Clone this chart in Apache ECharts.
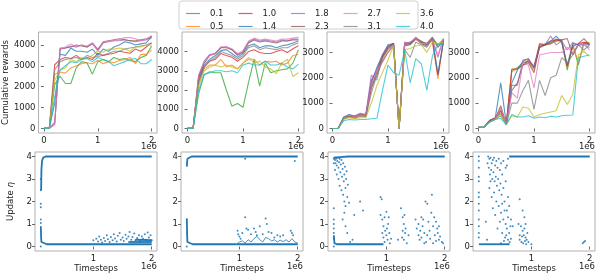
<!DOCTYPE html>
<html><head><meta charset="utf-8">
<script src="https://cdn.jsdelivr.net/npm/echarts@6/dist/echarts.min.js"></script>
<style>html,body{margin:0;padding:0;background:#fff}#c{width:598px;height:274px}</style>
</head><body><div id="c"></div>
<script>
// ---- data (timesteps in units of 1e6) ----
const steps = [0,0.1,0.2,0.3,0.4,0.5,0.6,0.7,0.8,0.9,1.0,1.1,1.2,1.3,1.4,1.5,1.6,1.7,1.8,1.9,2.0];
const etaLabels = ['0.1','0.5','1.0','1.4','1.8','2.3','2.7','3.1','3.6','4.0'];
const legendRow1 = ['0.1','1.0','1.8','2.7','3.6'];
const legendRow2 = ['0.5','1.4','2.3','3.1','4.0'];
const topYTicks12 = [0,1000,2000,3000,4000];
const topYTicks34 = [0,1000,2000,3000];
const topXTicks = [0,1,2];
const botXTicks = [1,2];
const botYTicks = [0,1,2,3,4];

const rewardsEnv1 = [
 [0,0,2100,2500,2150,2150,2900,3200,3150,2600,3200,3300,3200,3400,3300,3350,3250,3200,3400,3500,3950],
 [0,0,2600,2700,2650,2900,3000,3100,3150,3100,3250,3100,3200,3150,3250,3300,3400,3100,3550,3550,3750],
 [0,0,3050,3300,3400,3350,3500,3300,3400,3300,3600,3500,3550,3600,3700,3650,3600,3800,3700,3900,4100],
 [0,0,1200,3550,3500,3850,3700,3700,3650,3800,3500,3800,3700,3900,4000,4150,4100,4000,4050,4100,4400],
 [0,0,300,3800,3850,3950,3900,4000,3900,4100,3800,4100,4150,4200,4200,4250,4200,4150,4200,4250,4350],
 [0,0,200,3850,3850,3900,4000,3950,3900,4050,3750,4150,4200,4250,4300,4250,4200,4200,4250,4300,4400],
 [0,0,200,3800,3900,4050,3900,4000,3950,4100,3700,4100,4200,4200,4250,4350,4350,4300,4200,4250,4450],
 [0,0,2800,3200,3300,3350,3400,3300,3500,3400,3450,3500,3600,3700,3700,3800,3850,3900,3950,4000,4100],
 [0,0,2300,2800,2900,3300,3200,3400,3350,3500,3700,3650,3800,3800,3850,3800,3700,3900,3900,4000,4000],
 [0,0,1500,2800,3000,3200,3150,3300,3350,3200,3400,3300,3200,3000,3100,3200,3300,3350,3100,3100,3300]
];
const rewardsEnv2 = [
 [0,0,1800,2800,2950,2900,2900,2000,1150,1300,1100,2400,3600,2200,3400,2900,3000,3050,3100,3400,4100],
 [0,0,2300,3100,3300,3300,3600,3200,3300,3100,3400,3600,3600,3300,3500,3450,3500,3300,3400,3800,3850],
 [0,0,2500,3200,3500,3600,3900,3800,3700,3500,3700,4000,4100,3950,3900,3900,4000,4100,3950,4150,4300],
 [0,0,2600,3300,3600,3800,4050,4100,3900,3700,3900,4300,4400,4200,4300,4300,4200,4300,4350,4450,4550],
 [0,0,2700,3500,3850,3900,4200,4250,4100,3800,4000,4500,4650,4550,4600,4550,4500,4600,4550,4650,4650],
 [0,0,2700,3400,3800,3900,4200,4200,4100,3850,3950,4450,4600,4500,4550,4500,4450,4550,4550,4600,4600],
 [0,0,2800,3500,3800,3900,4250,4250,4150,3900,4050,4550,4700,4600,4650,4600,4550,4650,4650,4700,4750],
 [0,0,2400,3200,3500,3700,4000,3900,3800,3600,3800,4200,4300,4100,4200,4150,4100,4200,4200,4350,4450],
 [0,0,2200,3000,3200,3300,3200,3300,3200,3100,3400,3700,3400,3500,3200,3100,2850,3400,3600,2700,2900],
 [0,0,2000,2800,2900,3000,3000,2950,3000,2900,3300,3400,3300,3300,3500,3300,3300,3400,3200,3100,3350]
];
const rewardsEnv3 = [
 [0,0,420,480,470,520,540,1600,2100,2800,3200,3350,0,3350,3400,3550,3450,3300,3550,3300,3500],
 [0,0,400,500,420,500,480,1700,2200,2700,3100,3300,0,3300,3300,3500,3350,3300,3450,1950,3450],
 [0,0,430,520,460,560,520,1900,2300,2850,3250,3350,0,3350,3350,3550,3400,3350,3500,2100,3500],
 [0,0,450,550,480,550,500,1800,2400,2900,3300,3350,0,3250,3300,3550,3350,3250,3550,2150,3400],
 [0,0,400,530,500,600,560,2100,1900,2900,3200,3300,0,3400,3350,3600,3400,3300,3500,2800,3550],
 [0,0,380,500,450,560,500,1600,2250,2800,3150,3350,0,3300,3350,3550,3400,3350,3600,3200,3500],
 [0,0,410,520,470,540,520,1700,2300,2600,3000,3300,0,3350,3400,3550,3350,3350,3500,2900,3550],
 [0,0,380,450,400,480,450,1400,2100,2650,3000,3250,0,3100,2800,3400,3300,3200,3550,3200,3450],
 [0,0,350,420,380,420,420,1000,1700,2200,2700,3250,0,3100,3150,3250,3300,3000,3400,3350,3400],
 [0,0,300,350,330,350,350,380,400,1500,2500,2200,2100,3100,1800,2750,2550,1500,2850,3300,3300]
];
const rewardsEnv4 = [
 [50,50,300,400,700,150,2300,2400,2600,2650,2400,3200,3300,3400,3500,3450,2300,3300,2500,3400,3350],
 [50,50,300,400,800,150,2250,2350,2500,2650,2300,3300,3300,3350,3550,3400,2400,3300,2600,3350,3400],
 [50,50,320,420,700,150,2350,2350,2500,2700,2450,3350,3300,3450,3500,3500,2450,3250,3350,3400,3350],
 [50,50,300,400,1800,200,1800,2300,2650,2750,2400,3200,3350,3450,3650,3400,2500,3350,3300,3350,3300],
 [50,50,280,400,600,150,1700,1700,2700,2750,2400,3200,3300,3650,3300,3450,3100,3400,3300,3300,3200],
 [50,50,280,380,900,150,1500,1800,2500,2600,2200,3250,3300,3350,3450,3500,3550,2900,3350,3550,3300],
 [50,50,250,380,800,150,1400,1200,2600,2500,1600,2900,2950,3000,3000,3000,3200,3000,3300,3350,3100],
 [50,50,250,350,500,150,1000,1000,1500,1900,750,1900,1300,2000,2100,2800,2600,2900,3300,3100,3300],
 [50,50,250,350,550,150,500,450,850,800,450,550,600,650,700,1300,950,1350,2900,3050,2850],
 [50,50,250,350,400,150,550,450,450,500,400,450,420,480,450,500,520,530,2800,2850,2900]
];

// eta traces: dense bands (read as polylines) and scattered points, [timestep(1e6), eta]
const etaBands1 = [
 [[0.105,2.5],[0.11,3.4],[0.12,3.8],[0.14,3.95],[0.18,4.0],[2.0,4.0]],
 [[0.1,0.9],[0.105,0.4],[0.11,0.2],[0.13,0.12],[0.2,0.1],[2.0,0.1]],
 [[1.6,0.2],[2.0,0.2]],
 [[1.72,0.3],[2.0,0.28]]
];
const etaPoints1 = [[0.1,1.9],[0.1,1.75],[0.1,1.2],[0.1,1.05],[0.1,0.0],[0.1,2.5],[0.1,3.0],
 [1.0,0.28],[1.05,0.35],[1.08,0.22],[1.1,0.45],[1.13,0.3],[1.15,0.18],[1.18,0.38],[1.2,0.25],[1.23,0.5],[1.25,0.32],
 [1.28,0.2],[1.3,0.42],[1.33,0.28],[1.35,0.55],[1.37,0.36],[1.4,0.22],[1.42,0.48],[1.45,0.6],[1.47,0.3],[1.5,0.4],
 [1.52,0.25],[1.55,0.52],[1.57,0.35],[1.6,0.45],[1.62,0.65],[1.65,0.3],[1.67,0.42],[1.7,0.58],[1.72,0.28],[1.75,0.38],
 [1.78,0.5],[1.8,0.25],[1.83,0.45],[1.85,0.35],[1.88,0.55],[1.9,0.3],[1.93,0.62],[1.95,0.4],[1.98,0.5],[2.0,0.28]];
const etaBands2 = [
 [[0.1,3.55],[0.105,3.75],[0.11,3.9],[0.13,3.98],[0.18,4.0],[2.0,4.0]],
 [[0.1,1.25],[0.102,0.9],[0.105,0.5],[0.11,0.2],[0.13,0.12],[0.2,0.1],[0.95,0.1]],
 [[0.95,0.1],[1.0,0.2],[1.05,0.25],[1.1,0.15],[1.15,0.3],[1.2,0.2],[1.25,0.35],[1.3,0.45],[1.35,0.3],[1.4,0.2],[1.45,0.4],
  [1.5,0.35],[1.55,0.25],[1.6,0.3],[1.65,0.2],[1.7,0.28],[1.75,0.22],[1.8,0.3],[1.85,0.2],[1.9,0.35],[1.95,0.2],[2.0,0.15]],
 [[0.95,0.1],[2.0,0.1]]
];
const etaPoints2 = [[0.1,0.0],[0.97,0.7],[0.98,0.55],[1.0,0.45],[1.05,0.6],[1.1,1.3],[1.12,0.8],[1.15,0.75],[1.2,0.55],
 [1.25,0.8],[1.28,0.65],[1.3,0.5],[1.35,0.9],[1.45,1.25],[1.47,1.0],[1.5,0.65],[1.55,0.6],[1.6,0.4],[1.65,0.5],
 [1.7,0.45],[1.88,0.7],[1.9,0.6],[1.92,0.5],[1.1,3.9],[1.95,3.8],[1.4,0.55],[1.75,0.5],[1.02,0.35]];
const etaBands3 = [
 [[0.1,3.95],[0.2,3.97],[0.35,4.0],[2.0,4.0]],
 [[0.1,0.5],[0.11,0.15],[0.15,0.1],[0.95,0.1]]
];
const etaPoints3 = [[0.11,3.95],[0.12,3.85],[0.13,3.7],[0.14,3.9],[0.15,3.6],[0.16,3.8],[0.17,3.95],[0.18,3.5],[0.19,3.75],
 [0.2,3.9],[0.21,3.3],[0.22,3.65],[0.23,3.85],[0.24,3.1],[0.25,3.45],[0.26,3.7],[0.27,2.9],[0.28,3.2],[0.29,3.55],[0.3,2.6],
 [0.31,3.0],[0.32,3.35],[0.33,2.2],[0.34,2.75],[0.12,3.4],[0.15,3.2],[0.18,3.0],[0.2,2.7],[0.23,2.5],[0.26,2.3],[0.28,2.0],
 [0.3,1.8],[0.36,1.95],[0.45,1.4],[0.55,2.0],[0.6,1.6],[0.25,1.2],[0.3,0.9],[0.33,0.6],[0.28,1.5],[0.38,0.2],[0.42,0.3],
 [0.1,1.7],[0.1,1.2],[0.1,1.0],[0.1,0.8],[0.1,0.6],[0.1,0.35],[0.1,0.0],[0.1,3.9],[0.1,3.7],
 [0.9,2.2],[0.92,2.1],[0.9,1.4],[0.93,1.2],[0.95,0.9],[0.97,1.3],[0.98,0.7],[1.0,1.55],[1.0,0.5],[1.02,0.3],[1.03,1.0],
 [1.05,0.6],[0.95,0.4],[0.97,0.2],[1.06,0.15],[1.08,0.35],[0.93,0.6],[1.01,0.8],[1.04,1.3],
 [1.25,1.7],[1.28,1.3],[1.3,1.0],[1.32,0.6],[1.27,0.4],[1.3,0.3],[1.33,0.8],[1.35,0.15],[1.28,0.7],[1.31,1.4],[1.2,0.3],[1.38,0.5],
 [1.5,1.2],[1.52,0.8],[1.55,0.5],[1.57,0.3],[1.6,1.3],[1.62,0.9],[1.65,0.6],[1.67,2.0],[1.68,0.2],[1.7,1.9],[1.72,1.1],
 [1.74,0.7],[1.75,0.35],[1.77,1.5],[1.78,2.3],[1.8,0.9],[1.82,1.3],[1.83,0.5],[1.85,0.25],[1.87,0.8],[1.88,0.6],[1.9,0.3],
 [1.92,0.45],[1.95,0.2],[1.97,0.15],[1.55,1.0],[1.6,0.4],[1.65,0.15],[1.7,0.5],[1.8,0.15],[1.85,1.1],[1.9,0.9],[1.58,0.7],[1.63,1.2]];
const etaBands4 = [
 [[0.62,4.0],[2.0,4.0]],
 [[0.1,0.1],[0.62,0.1]]
];
const etaPoints4 = [[0.1,4.0],[0.1,3.8],[0.1,3.5],[0.1,2.4],[0.1,2.2],[0.1,1.9],[0.1,1.6],[0.1,1.2],[0.1,0.9],[0.1,0.6],[0.1,0.4],[0.1,3.1],[0.1,2.9],
 [0.26,4.0],[0.28,3.9],[0.3,3.95],[0.32,3.7],[0.34,3.85],[0.36,3.95],[0.38,3.6],[0.4,3.8],[0.42,3.5],[0.44,3.9],[0.46,3.4],[0.48,3.7],
 [0.27,3.5],[0.29,3.2],[0.31,3.4],[0.33,3.0],[0.35,3.3],[0.37,2.9],[0.39,3.1],[0.41,2.7],[0.43,3.0],[0.45,2.5],[0.47,2.8],[0.49,2.3],
 [0.5,3.2],[0.52,2.6],[0.54,2.0],[0.56,2.9],[0.58,1.6],[0.6,2.2],[0.28,2.6],[0.32,2.2],[0.36,2.4],[0.4,2.0],[0.44,1.8],[0.48,1.5],
 [0.5,1.9],[0.52,1.2],[0.54,1.6],[0.56,1.0],[0.58,0.8],[0.6,1.3],[0.62,0.6],[0.64,0.9],[0.46,1.1],[0.42,0.8],[0.5,0.6],[0.55,0.4],
 [0.6,0.3],[0.63,0.2],[0.53,0.25],[0.48,0.15],[0.57,0.5],[0.61,0.1],[0.65,0.35],[0.38,1.4],[0.34,1.7],[0.3,2.9],[0.25,3.7],[0.22,1.1],
 [0.24,0.3],[0.62,1.8],[0.65,1.2],[0.68,0.9],[0.56,3.5],[0.52,3.8],[0.6,3.9],[0.58,3.6],
 [0.8,2.1],[0.85,1.6],[0.88,1.3],[0.9,1.0],[0.82,0.9],[0.85,0.7],[0.87,0.5],[0.9,0.4],[0.92,0.3],[0.8,0.5],[0.83,0.2],[0.86,0.15],
 [0.88,0.8],[0.93,0.6],[0.95,0.2],[0.78,1.0],[0.8,0.3],[0.91,0.1],[0.84,0.45],[0.89,0.25],[1.0,0.1],[1.9,0.2],[1.92,0.25],[1.88,0.15]];

// ---- styling / layout ----
const FONT = 'DejaVu Sans';
const colors = ['#2ca02c','#ff7f0e','#d62728','#1f77b4','#9467bd','#8c564b','#e377c2','#7f7f7f','#bcbd22','#17becf'];
const rewardSets = [rewardsEnv1, rewardsEnv2, rewardsEnv3, rewardsEnv4];
const topYRange = [[-220,4620],[-240,5020],[-180,3800],[-180,3810]];
const topYTicks = [topYTicks12, topYTicks12, topYTicks34, topYTicks34];
const etaBandSets = [etaBands1, etaBands2, etaBands3, etaBands4];
const etaPointSets = [etaPoints1, etaPoints2, etaPoints3, etaPoints4];
const topLeft = [35,182,327,473], botLeft = [35,181,328,473];
const W = 122, topTop = 32, topH = 101, botTop = 152, botH = 99;

const grids = [], xAxes = [], yAxes = [], series = [], graphics = [];
function axisBase(ticks){
  return {
    axisLine:{show:false},
    axisTick:{show:true,length:3,lineStyle:{color:'#444',width:0.8},customValues:ticks},
    axisLabel:{color:'#222',fontSize:8.5,fontFamily:FONT,margin:3,customValues:ticks,formatter:v=>String(v)},
    splitLine:{show:false}
  };
}
for (let i=0;i<4;i++){
  grids.push({left:topLeft[i],top:topTop,width:W,height:topH,show:true,borderColor:'#b0b0b0',borderWidth:1,backgroundColor:'transparent'});
  xAxes.push(Object.assign(axisBase(topXTicks),{type:'value',gridIndex:i,min:-0.1,max:2.1}));
  const ya = Object.assign(axisBase(topYTicks[i]),{type:'value',gridIndex:i,min:topYRange[i][0],max:topYRange[i][1]});
  if(i===0){ ya.name='Cumulative rewards'; ya.nameLocation='middle'; ya.nameGap=25; ya.nameTextStyle={fontSize:8.5,fontFamily:FONT,color:'#222'}; }
  yAxes.push(ya);
  rewardSets[i].forEach((vals,k)=>{
    series.push({type:'line',name:etaLabels[k],xAxisIndex:i,yAxisIndex:i,symbol:'none',
      data:steps.map((s,j)=>[s,vals[j]]),lineStyle:{width:1.1,color:colors[k],opacity:0.75},itemStyle:{color:colors[k]},
      silent:true,animation:false});
  });
  graphics.push({type:'text',right:598-(topLeft[i]+W),top:142,style:{text:'1e6',font:'8.5px "DejaVu Sans"',fill:'#222'}});
}
for (let i=0;i<4;i++){
  const g = 4+i;
  grids.push({left:botLeft[i],top:botTop,width:W,height:botH,show:true,borderColor:'#b0b0b0',borderWidth:1,backgroundColor:'transparent'});
  xAxes.push(Object.assign(axisBase(botXTicks),{type:'value',gridIndex:g,min:0,max:2.09,name:'Timesteps',nameLocation:'middle',nameGap:13,
     nameTextStyle:{fontSize:8.5,fontFamily:FONT,color:'#222'}}));
  const ya = Object.assign(axisBase(botYTicks),{type:'value',gridIndex:g,min:-0.2,max:4.2});
  if(i===0){ ya.name='Update {i|η}'; ya.nameLocation='middle'; ya.nameGap=20;
    ya.nameTextStyle={fontSize:8.5,fontFamily:FONT,color:'#222',rich:{i:{fontSize:8.5,fontFamily:FONT,fontStyle:'italic',color:'#222'}}}; }
  yAxes.push(ya);
  etaBandSets[i].forEach((b,bi)=>{
    const thin = (i===1 && bi===2);
    series.push({type:'line',xAxisIndex:g,yAxisIndex:g,symbol:'none',data:b,lineStyle:{width:thin?1:1.8,color:'#1f77b4',opacity:thin?0.8:1},silent:true,animation:false});
  });
  series.push({type:'scatter',xAxisIndex:g,yAxisIndex:g,data:etaPointSets[i],symbolSize:2,itemStyle:{color:'#1f77b4',opacity:0.85},silent:true,animation:false});
  graphics.push({type:'text',right:598-(botLeft[i]+W),top:262,style:{text:'1e6',font:'8.5px "DejaVu Sans"',fill:'#222'}});
}
graphics.push({type:'rect',shape:{x:179,y:1,width:239,height:28,r:3},style:{fill:'#fff',stroke:'#d0d0d0',lineWidth:1},z:-1});

const legendCommon = {itemWidth:14,itemHeight:8,itemGap:15,icon:'path://M0,4 L14,4 L14,5.2 L0,5.2 Z',
  textStyle:{fontSize:8.5,fontFamily:FONT,color:'#222',padding:[0,0,0,5]},selectedMode:false};
const chart = echarts.init(document.getElementById('c'),null,{renderer:'canvas'});
chart.setOption({
  animation:false,
  textStyle:{fontFamily:FONT},
  grid:grids, xAxis:xAxes, yAxis:yAxes, series:series,
  legend:[Object.assign({data:legendRow1.map(n=>({name:n,itemStyle:{color:colors[etaLabels.indexOf(n)],opacity:0.75}})),left:181,top:4},legendCommon),
          Object.assign({data:legendRow2.map(n=>({name:n,itemStyle:{color:colors[etaLabels.indexOf(n)],opacity:0.75}})),left:181,top:17},legendCommon)],
  graphic:graphics
});
</script></body></html>
